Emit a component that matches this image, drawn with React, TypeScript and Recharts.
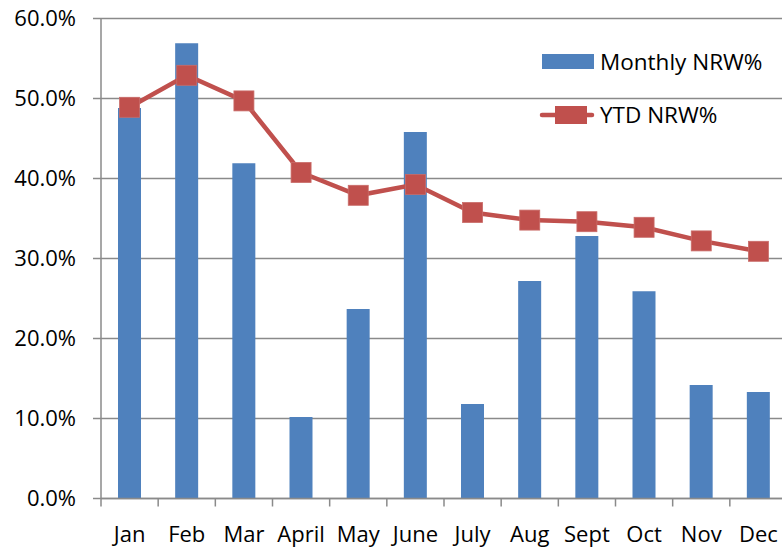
import React from "react";
import {
  ComposedChart,
  Bar,
  Line,
  XAxis,
  YAxis,
  CartesianGrid,
} from "recharts";

const months = ["Jan", "Feb", "Mar", "April", "May", "June", "July", "Aug", "Sept", "Oct", "Nov", "Dec"];
const monthlyNrw = [48.8, 56.9, 41.9, 10.2, 23.7, 45.8, 11.8, 27.2, 32.8, 25.9, 14.2, 13.3];
const ytdNrw = [48.9, 52.9, 49.7, 40.75, 37.9, 39.25, 35.75, 34.8, 34.6, 33.9, 32.2, 30.9];
const yTicks = [0, 10, 20, 30, 40, 50, 60];

const data = months.map((m, i) => ({ month: m, monthly: monthlyNrw[i], ytd: ytdNrw[i] }));

const BLUE = "#4F81BD";
const RED = "#C0504D";
const GRID = "#8a8a8a";
const FONT = "'Open Sans', sans-serif";

const CHART_W = 790;
const CHART_H = 547;
const Y_AXIS_W = 101;
const MARGIN_R = 3;
const BAND = (CHART_W - Y_AXIS_W - MARGIN_R) / months.length;

// Excel style: tick marks sit between categories, label in the middle
const MonthTick = (props: any) => {
  const { x, y, payload } = props;
  const left = x - BAND / 2;
  return (
    <g>
      <line x1={left} y1={y} x2={left} y2={y + 8} stroke={GRID} strokeWidth={1.5} />
      <text x={x} y={y + 28} dy="0.71em" textAnchor="middle" fontSize={22} fontFamily={FONT} fill="#000">
        {payload.value}
      </text>
    </g>
  );
};

const SquareDot = (props: any) => {
  const { cx, cy, index } = props;
  if (cx == null || cy == null) return null;
  return <rect key={`dot-${index}`} x={cx - 10} y={cy - 10} width={20} height={20} fill={RED} stroke="#c96c69" strokeWidth={0.8} />;
};

const LegendBox = () => (
  <svg width={242} height={100} style={{ position: "absolute", left: 540, top: 54, overflow: "visible" }}>
    <rect x={2} y={0} width={52} height={15} fill={BLUE} />
    <text x={60} y={7.5} dy="0.36em" fontSize={22.5} fontFamily={FONT} fill="#000">
      Monthly NRW%
    </text>
    <line x1={2} y1={61} x2={52} y2={61} stroke={RED} strokeWidth={4.5} strokeLinecap="round" />
    <rect x={15} y={52} width={32} height={18} fill={RED} />
    <text x={60} y={61} dy="0.36em" fontSize={22.5} fontFamily={FONT} fill="#000">
      YTD NRW%
    </text>
  </svg>
);

export default function App() {
  return (
    <div style={{ position: "absolute", left: 0, top: 0, width: 782, height: 547, overflow: "hidden", background: "#fff" }}>
      <ComposedChart
        width={CHART_W}
        height={CHART_H}
        data={data}
        margin={{ top: 18.5, right: MARGIN_R, left: 0, bottom: 0 }}
      >
        <CartesianGrid vertical={false} stroke={GRID} strokeWidth={1.5} />
        <XAxis
          dataKey="month"
          height={48.5}
          axisLine={{ stroke: GRID, strokeWidth: 1.5 }}
          tickLine={false}
          tickSize={0}
          tickMargin={0}
          tick={<MonthTick />}
          interval={0}
        />
        <YAxis
          width={Y_AXIS_W}
          domain={[0, 60]}
          ticks={yTicks}
          interval={0}
          axisLine={{ stroke: GRID, strokeWidth: 1.5 }}
          tickLine={{ stroke: GRID, strokeWidth: 1.5 }}
          tickSize={8}
          tickMargin={17}
          tickFormatter={(v: number) => v.toFixed(1) + "%"}
          tick={{ fontSize: 22, fontFamily: FONT, fill: "#000" }}
        />
        <Bar dataKey="monthly" fill={BLUE} barSize={23} isAnimationActive={false} />
        <Line
          dataKey="ytd"
          stroke={RED}
          strokeWidth={4.5}
          dot={<SquareDot />}
          activeDot={false}
          isAnimationActive={false}
        />
      </ComposedChart>
      <LegendBox />
    </div>
  );
}
